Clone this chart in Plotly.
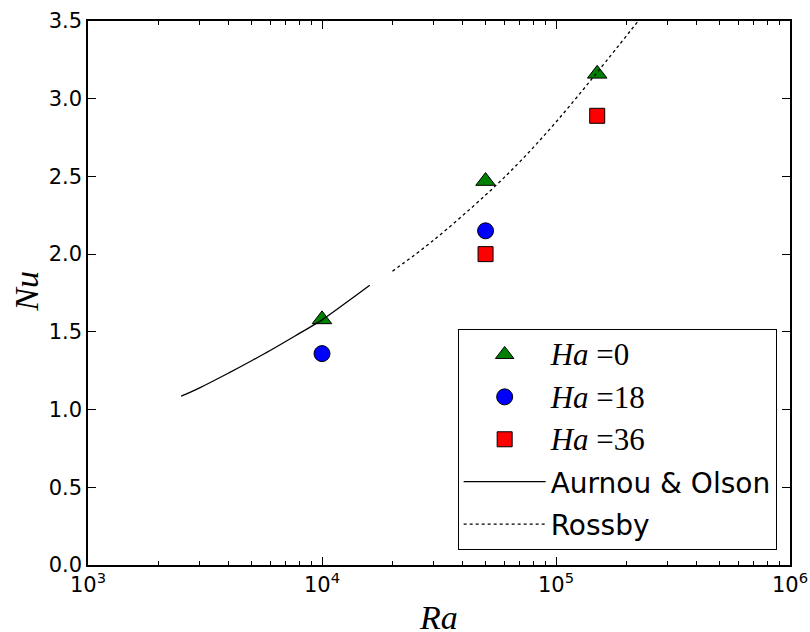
import plotly.graph_objects as go

# Data
ra_ha0 = [1e4, 5e4, 1.5e5]
nu_ha0 = [1.58, 2.47, 3.16]
ra_ha18 = [1e4, 5e4]
nu_ha18 = [1.36, 2.15]
ra_ha36 = [5e4, 1.5e5]
nu_ha36 = [2.00, 2.89]

ra_aurnou = [2500, 3000, 4000, 5000, 6000, 8000, 10000, 13000, 16000]
nu_aurnou = [1.086, 1.14, 1.236, 1.314, 1.38, 1.49, 1.577, 1.70, 1.80]

ra_rossby = [2.0e4, 3.0e4, 5.0e4, 7.0e4, 1.0e5, 1.5e5, 2.3e5]
nu_rossby = [1.89, 2.09, 2.38, 2.594, 2.85, 3.17, 3.52]

x_tickvals = [1e3, 1e4, 1e5, 1e6]
x_ticktext = ["10<sup>3</sup>", "10<sup>4</sup>", "10<sup>5</sup>", "10<sup>6</sup>"]
y_tickvals = [0.0, 0.5, 1.0, 1.5, 2.0, 2.5, 3.0, 3.5]
y_ticktext = ["0.0", "0.5", "1.0", "1.5", "2.0", "2.5", "3.0", "3.5"]
minor_vals = [m * 10 ** e for e in (3, 4, 5) for m in range(2, 10)]

serif = "Liberation Serif"
sans = "DejaVu Sans"


def ha_label(v):
    return ("<span style='font-family:Liberation Serif;font-size:31px'><i>Ha</i> =" + v + "</span>")


fig = go.Figure()
fig.add_trace(go.Scatter(
    x=ra_ha0, y=nu_ha0, mode="markers", name=ha_label("0"), legendgroup="a",
    marker=dict(symbol="triangle-up", size=17, color="#008000",
                line=dict(color="black", width=1))))
fig.add_trace(go.Scatter(
    x=ra_ha18, y=nu_ha18, mode="markers", name=ha_label("18"), legendgroup="b",
    marker=dict(symbol="circle", size=16, color="#0000ff",
                line=dict(color="black", width=1))))
fig.add_trace(go.Scatter(
    x=ra_ha36, y=nu_ha36, mode="markers", name=ha_label("36"), legendgroup="c",
    marker=dict(symbol="square", size=15, color="#ff0000",
                line=dict(color="black", width=1))))
fig.add_trace(go.Scatter(
    x=ra_aurnou, y=nu_aurnou, mode="lines", name="Aurnou &amp; Olson", legendgroup="d",
    line=dict(color="black", width=1.3, shape="spline")))
fig.add_trace(go.Scatter(
    x=ra_rossby, y=nu_rossby, mode="lines", name="Rossby", legendgroup="e",
    line=dict(color="black", width=1.3, dash="dot", shape="spline")))

axis_common = dict(
    showline=True, linecolor="black", linewidth=1.5, mirror="allticks",
    ticks="inside", ticklen=8, tickwidth=1, tickcolor="black",
    showgrid=False, zeroline=False, automargin=False,
    ticklabeloverflow="allow",
    tickfont=dict(family=sans, size=21, color="black"),
)

fig.update_xaxes(
    type="log", range=[3, 6], tickmode="array",
    tickvals=x_tickvals, ticktext=x_ticktext,
    minor=dict(ticks="inside", ticklen=4, tickwidth=1, tickcolor="black",
               tickvals=minor_vals, showgrid=False),
    **axis_common)
fig.update_yaxes(
    range=[0, 3.5], tickmode="array", tickvals=y_tickvals, ticktext=y_ticktext,
    **axis_common)

fig.add_annotation(text="<i>Ra</i>", xref="paper", yref="paper", x=0.499, y=-0.097,
                   xanchor="center", yanchor="middle", showarrow=False,
                   font=dict(family=serif, size=34, color="black"))
fig.add_annotation(text="<i>Nu</i>", xref="paper", yref="paper", x=-0.087, y=0.504,
                   xanchor="center", yanchor="middle", showarrow=False, textangle=-90,
                   font=dict(family=serif, size=34, color="black"))

fig.update_layout(
    width=810, height=632,
    margin=dict(l=88, r=20, t=21, b=67),
    paper_bgcolor="white", plot_bgcolor="white",
    showlegend=True,
    legend=dict(
        x=0.981, y=0.028, xanchor="right", yanchor="bottom",
        bgcolor="white", bordercolor="black", borderwidth=1,
        font=dict(family=sans, size=28, color="black"),
        tracegroupgap=3, itemwidth=82,
    ),
)

# Remove the page's default body margin so the figure fills the window exactly
fig.write_html("out.html", config={"displayModeBar": False},
               post_script="document.body.style.margin='0';document.body.style.overflow='hidden';")
